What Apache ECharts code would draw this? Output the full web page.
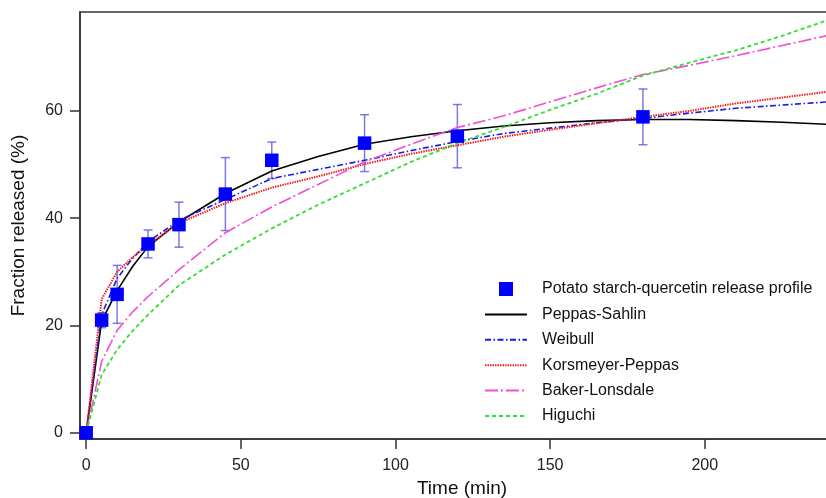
<!DOCTYPE html>
<html>
<head>
<meta charset="utf-8">
<title>Quercetin release kinetics</title>
<script src="https://cdn.jsdelivr.net/npm/echarts@6/dist/echarts.min.js"></script>
<style>
  html, body { margin: 0; padding: 0; background: #fff; }
  #chart { width: 826px; height: 498px; }
</style>
</head>
<body>
<div id="chart"></div>
<script>
// Measured release profile (time in min, fraction released in %, ± error)
const times = [0, 5, 10, 20, 30, 45, 60, 90, 120, 180];
const released = [0, 21.0, 25.8, 35.2, 38.8, 44.5, 50.8, 54.0, 55.3, 58.9];
const errors = [0, 1.4, 5.4, 2.6, 4.2, 6.8, 3.4, 5.3, 5.9, 5.2];

// Fitted model curves, sampled on a common time grid
const fitTimes = [0, 5, 10, 15, 20, 30, 45, 60, 75, 90, 105, 120, 135, 150, 165, 180, 195, 210, 225, 240];
const peppasSahlin = [0, 20.8, 26.5, 31.0, 34.7, 39.3, 44.6, 48.8, 51.5, 53.8, 55.2, 56.3, 57.2, 57.8, 58.2, 58.4, 58.4, 58.2, 57.9, 57.5];
const weibull = [0, 22.0, 28.8, 32.5, 35.6, 39.6, 43.5, 47.4, 49.1, 50.8, 52.6, 54.3, 55.8, 56.8, 57.8, 58.6, 59.6, 60.5, 61.1, 61.7];
const korsmeyerPeppas = [0, 24.9, 30.0, 32.7, 35.0, 39.1, 42.8, 45.7, 47.8, 50.1, 52.0, 53.6, 55.2, 56.5, 57.7, 58.9, 60.0, 61.4, 62.5, 63.6];
const bakerLonsdale = [0, 13.3, 19.1, 22.5, 25.4, 30.4, 37.3, 42.1, 46.3, 50.5, 53.8, 56.9, 59.1, 61.7, 64.3, 66.8, 68.5, 70.3, 72.2, 74.1];
const higuchi = [0, 10.8, 15.5, 19.0, 22.0, 27.5, 33.2, 38.1, 42.5, 46.5, 50.5, 54.0, 57.0, 60.2, 63.2, 66.6, 69.0, 71.3, 74.0, 77.0];

// Axis tick values
const xTicks = [0, 50, 100, 150, 200];
const yTicks = [0, 20, 40, 60];

const profileName = 'Potato starch-quercetin release profile';
const FONT = '"Liberation Sans", Arial, Helvetica, sans-serif';

const pairs = (xs, ys) => xs.map((x, i) => [x, ys[i]]);
const errorData = times
  .map((t, i) => [t, released[i] - errors[i], released[i] + errors[i]])
  .filter((d, i) => errors[i] > 0);

// Square legend marker kept centred in a wide legend slot
const squareIcon = 'path://M0,0L0.01,0L0,0.01Z M42,16L41.99,16L42,15.99Z M14,1h14v14h-14z';
// Line entries show only their dashed stroke, no marker
const lineEntry = (name) => ({ name: name, itemStyle: { color: 'transparent', borderColor: 'transparent', borderWidth: 0, opacity: 0 } });

function fitSeries(name, data, color, width, dash) {
  return {
    name: name,
    type: 'line',
    data: pairs(fitTimes, data),
    symbol: 'none',
    showSymbol: false,
    smooth: false,
    z: 3,
    lineStyle: { color: color, width: width, type: dash },
    itemStyle: { color: color },
    emphasis: { disabled: true }
  };
}

const chart = echarts.init(document.getElementById('chart'), null, { renderer: 'canvas' });

chart.setOption({
  animation: false,
  backgroundColor: '#ffffff',
  textStyle: { fontFamily: FONT },
  grid: {
    left: 80, top: 12, right: -18, bottom: 59,
    outerBoundsMode: 'none',
    containLabel: false,
    show: true, borderColor: '#333', borderWidth: 1.5, backgroundColor: 'transparent'
  },
  legend: {
    orient: 'vertical',
    left: 484, top: 281,
    padding: 0,
    itemWidth: 42, itemHeight: 16, itemGap: 9.4,
    textStyle: { fontFamily: FONT, fontSize: 16, color: '#111', lineHeight: 16, padding: [0, 0, 0, 10] },
    data: [
      { name: profileName, icon: squareIcon, itemStyle: { color: '#0000ff', borderWidth: 0, opacity: 1 } },
      lineEntry('Peppas-Sahlin'),
      lineEntry('Weibull'),
      lineEntry('Korsmeyer-Peppas'),
      lineEntry('Baker-Lonsdale'),
      lineEntry('Higuchi')
    ]
  },
  xAxis: {
    type: 'value',
    min: -2, max: 245,
    name: 'Time (min)',
    nameLocation: 'middle',
    nameGap: 37,
    nameTextStyle: { fontFamily: FONT, fontSize: 19, color: '#111' },
    axisLine: { show: true, onZero: false, lineStyle: { color: '#333', width: 1.5 } },
    axisTick: { show: true, inside: false, length: 10, customValues: xTicks, lineStyle: { color: '#333', width: 1.5 } },
    axisLabel: { customValues: xTicks, margin: 19, fontFamily: FONT, fontSize: 16, color: '#222' },
    splitLine: { show: false }
  },
  yAxis: {
    type: 'value',
    min: -1.17, max: 78.45,
    name: 'Fraction released (%)',
    nameLocation: 'middle',
    nameGap: 52,
    nameTextStyle: { fontFamily: FONT, fontSize: 19, color: '#111' },
    axisLine: { show: true, onZero: false, lineStyle: { color: '#333', width: 1.5 } },
    axisTick: { show: true, inside: false, length: 10, customValues: yTicks, lineStyle: { color: '#333', width: 1.5 } },
    axisLabel: { customValues: yTicks, margin: 17, fontFamily: FONT, fontSize: 16, color: '#222' },
    splitLine: { show: false }
  },
  series: [
    {
      name: 'error',
      type: 'custom',
      data: errorData,
      z: 2,
      silent: true,
      renderItem: function (params, api) {
        const x = api.value(0);
        const top = api.coord([x, api.value(2)]);
        const bot = api.coord([x, api.value(1)]);
        const cap = 4.5;
        const style = { stroke: 'rgba(90, 90, 225, 0.8)', lineWidth: 1.5 };
        return {
          type: 'group',
          children: [
            { type: 'line', shape: { x1: top[0], y1: top[1], x2: bot[0], y2: bot[1] }, style: style },
            { type: 'line', shape: { x1: top[0] - cap, y1: top[1], x2: top[0] + cap, y2: top[1] }, style: style },
            { type: 'line', shape: { x1: bot[0] - cap, y1: bot[1], x2: bot[0] + cap, y2: bot[1] }, style: style }
          ]
        };
      }
    },
    fitSeries('Peppas-Sahlin', peppasSahlin, '#000000', 1.6, 'solid'),
    fitSeries('Weibull', weibull, '#1a1ae0', 1.6, [6, 2.5, 1.5, 2.5]),
    fitSeries('Korsmeyer-Peppas', korsmeyerPeppas, '#ee2020', 2, [1.5, 1]),
    fitSeries('Baker-Lonsdale', bakerLonsdale, '#f050d0', 1.6, [13, 3, 2, 3]),
    fitSeries('Higuchi', higuchi, '#33dd33', 1.8, [4, 3]),
    {
      name: profileName,
      type: 'scatter',
      data: pairs(times, released),
      symbol: 'rect',
      symbolSize: 13.5,
      z: 5,
      itemStyle: { color: '#0000ff', opacity: 1, borderWidth: 0 },
      emphasis: { disabled: true }
    }
  ]
});
</script>
</body>
</html>
